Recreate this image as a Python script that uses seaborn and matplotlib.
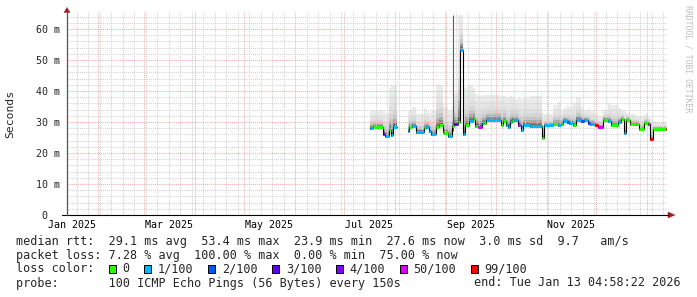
import numpy as np
import pandas as pd
import matplotlib
matplotlib.use("Agg")
import matplotlib.pyplot as plt
import matplotlib.dates as mdates
import matplotlib.ticker as mticker
from matplotlib.patches import Polygon, Rectangle
import seaborn as sns

# ---------------- data ----------------
# step start, in days since 2025-07-01 ; NaN median marks a gap / the end
day = [15.7, 17.5, 23.2, 24.8, 27.3, 28.5, 29.7, 31.7,
       38.4, 39.4, 40.9, 43.5, 48.2, 49.6, 51.6, 52.6, 55.7, 57.7, 59.7, 60.7,
       63.2, 65.2, 66.8, 68.8, 70.5, 72.3, 73.4, 75.9, 77.9, 79.4, 81.5, 83.5,
       85.0, 86.1, 95.2, 96.4, 98.2, 99.5, 100.7, 101.8, 103.1, 105.5, 106.5,
       107.4, 108.6, 113.0, 119.5, 120.1, 121.2, 127.0, 129.9, 131.5, 132.9,
       135.5, 136.6, 139.0, 140.8, 143.9, 145.5, 148.1, 149.5, 152.3, 154.2,
       157.2, 160.3, 162.1, 166.4, 168.2, 170.0, 171.0, 173.5, 177.3, 179.1,
       182.2, 184.6, 186.0, 187.6, 195.6, 196.2]
median_ms = [28.0, 28.3, 26.2, 25.4, 27.3, 25.8, 28.5, np.nan,
             27.0, 28.5, 28.6, 26.7, 28.0, 28.3, 27.2, 26.0, 28.3, 29.0, 26.8, 26.3,
             25.5, 28.6, 29.5, 30.0, 53.4, 26.0, 29.0, 30.4, 31.0, 28.6, 28.3, 29.6,
             29.6, 30.6, 29.2, 30.3, 29.0, 28.4, 30.0, 30.4, 30.5, 29.1, 29.0,
             27.4, 29.0, 28.8, 28.6, 25.0, 28.9, 29.3, 29.0, 29.5, 30.4,
             30.0, 29.6, 29.0, 30.6, 30.3, 30.5, 29.8, 29.4, 28.9, 28.4,
             30.8, 30.2, 29.0, 30.1, 30.9, 26.4, 30.8, 29.4, 29.4, 27.6,
             29.8, 29.4, 24.4, 27.9, 27.8, np.nan]
loss_level = [1, 0, 4, 1, 0, 1, 1, -1,
              1, 0, 1, 1, 0, 1, 1, 1, 0, 0, 0, 0,
              1, 0, 3, 0, 1, 1, 0, 1, 0, 0, 5, 1,
              0, 1, 0, 0, 1, 1, 1, 0, 1, 5, 1,
              1, 1, 1, 0, 0, 1, 0, 1, 0, 1,
              2, 1, 0, 1, 2, 1, 2, 1, 6, 5,
              0, 1, 0, 1, 0, 1, 0, 0, 0, 0,
              0, 5, 6, 0, 6, -1]
smoke_top_ms = [33.5, 34.0, 33.5, 33.0, 41.0, 41.9, 41.5, np.nan,
                33.5, 33.9, 34.8, 32.5, 34.5, 33.5, 33.0, 33.5, 42.4, 42.0, 36.0, 35.0,
                34.0, 35.0, 39.5, 64.5, 64.5, 41.0, 41.4, 42.0, 41.0, 39.2, 38.5, 38.7,
                38.7, 38.7, 38.0, 38.5, 38.0, 37.8, 38.5, 38.0, 37.5, 37.8, 37.5,
                37.5, 37.8, 38.3, 39.5, 33.0, 32.5, 35.5, 36.5, 33.5, 34.5,
                35.5, 35.0, 36.0, 38.0, 35.0, 34.0, 34.5, 33.5, 32.5, 32.0,
                34.0, 36.0, 35.5, 34.5, 34.0, 33.5, 33.0, 32.5, 32.0, 32.0,
                32.5, 32.0, 31.0, 30.0, 29.5, np.nan]
spike_day = [65.8]
spike_low_ms = [27.0]
spike_top_ms = [64.6]

loss_labels = ["0", "1/100", "2/100", "3/100", "4/100", "50/100", "99/100"]
loss_colors = ["#26ff00", "#00b8ff", "#0059ff", "#5e00ff", "#7e00ff", "#dd00ff", "#ff0000"]
month_labels = ["Jan 2025", "Mar 2025", "May 2025", "Jul 2025", "Sep 2025", "Nov 2025"]
label_months = ["2025-01-01", "2025-03-01", "2025-05-01", "2025-07-01", "2025-09-01", "2025-11-01"]
y_major = [0, 10, 20, 30, 40, 50, 60]

line_rtt = "median rtt:  29.1 ms avg  53.4 ms max  23.9 ms min  27.6 ms now  3.0 ms sd  9.7   am/s"
line_loss = "packet loss: 7.28 % avg  100.00 % max  0.00 % min  75.00 % now"
line_probe = "probe:       100 ICMP Echo Pings (56 Bytes) every 150s"
line_end = "end: Tue Jan 13 04:58:22 2026"
end_time = pd.Timestamp("2026-01-13 04:58:22")
start_time = end_time - pd.Timedelta(days=365)

# ---------------- figure ----------------
sns.set_style("white")
plt.rcParams["font.family"] = ["DejaVu Sans Mono", "DejaVu Sans"]

W, H = 697, 297
fig = plt.figure(figsize=(W / 100, H / 100), dpi=100)
fig.patch.set_facecolor("white")


def fx(x):
    return x / W


def fy(y):
    return 1 - y / H


ax = fig.add_axes([fx(67), fy(215), 600 / W, 203 / H])
ax.set_facecolor("white")

base = pd.Timestamp("2025-07-01")
tnum = mdates.date2num(base + pd.to_timedelta(day, unit="D"))

# build step records
rows = []
seg = 0
for i in range(len(day) - 1):
    if np.isnan(median_ms[i]):
        seg += 1
        continue
    rows.append(dict(start=tnum[i], end=tnum[i + 1], med=median_ms[i],
                     loss=loss_level[i], top=smoke_top_ms[i], seg=seg))
steps = pd.DataFrame(rows)

# smoke (layered gray bands)
fracs = [1.0, 0.78, 0.58, 0.42, 0.30, 0.20, 0.12, 0.06]
grays = ["#ebebeb", "#e6e6e6", "#e0e0e0", "#d6d6d6", "#c6c6c6", "#ababab", "#8a8a8a", "#666666"]
for s, g in steps.groupby("seg"):
    xs = np.column_stack([g["start"].values, g["end"].values]).ravel()
    med = np.repeat(g["med"].values, 2)
    top = np.repeat(g["top"].values, 2)
    for f, c in zip(fracs, grays):
        ax.fill_between(xs, med - 0.6, med + f * (top - med), color=c, lw=0, zorder=1)

# thin spike
ax.vlines(mdates.date2num(base + pd.to_timedelta(spike_day, unit="D")),
          spike_low_ms, spike_top_ms, color="#5a5a5a", lw=0.8, zorder=3)

# black median line via seaborn
lx, ly, ls = [], [], []
for _, r in steps.iterrows():
    lx += [r["start"], r["end"]]
    ly += [r["med"], r["med"]]
    ls += [r["seg"], r["seg"]]
line_df = pd.DataFrame({"x": lx, "y": ly, "seg": ls})
sns.lineplot(data=line_df, x="x", y="y", units="seg", estimator=None, sort=False,
             color="black", lw=0.8, ax=ax, zorder=3, legend=False)

# loss-coloured median segments
ax.hlines(steps["med"], steps["start"], steps["end"],
          colors=[loss_colors[int(k)] for k in steps["loss"]], lw=2.2, zorder=4)

# axes ranges
ax.set_xlim(mdates.date2num(start_time), mdates.date2num(end_time))
ax.set_ylim(0, 65.5)
ax.set_xlabel("")
ax.set_ylabel("")

# grid
month_starts = mdates.date2num(pd.date_range("2025-02-01", "2026-01-01", freq="MS"))
weeks = mdates.date2num(pd.date_range("2025-01-19", "2026-01-12", freq="7D"))
ax.set_xticks(month_starts)
ax.set_xticks(weeks, minor=True)
ax.set_yticks(y_major)
ax.set_yticks(np.arange(0, 66, 2), minor=True)
ax.set_axisbelow(False)
ax.grid(True, which="major", color="#eeaeae", ls=(0, (1, 1)), lw=0.75)
ax.grid(True, which="minor", color="#d2d2d2", ls=(0, (1, 1)), lw=0.75)
for sp in ax.spines.values():
    sp.set_visible(False)
ax.tick_params(axis="x", which="both", labelbottom=False, direction="out",
               length=2.2, width=0.7, color="#666666")
ax.tick_params(axis="x", which="minor", length=1.2)
ax.tick_params(axis="y", which="major", direction="out", length=2.2, width=0.7,
               color="#666666", pad=2.8, labelsize=7.2)
ax.tick_params(axis="y", which="minor", direction="out", length=1.2, width=0.7, color="#888888")
ax.yaxis.set_major_formatter(mticker.FuncFormatter(lambda v, p: "0  " if v == 0 else f"{v:.0f} m"))

# month labels, centred mid-month
for lab, m in zip(month_labels, label_months):
    xc = mdates.date2num(pd.Timestamp(m) + pd.Timedelta(days=15))
    ax.text(xc, -0.027, lab, transform=ax.get_xaxis_transform(), ha="center", va="top",
            fontsize=7.2, color="black", clip_on=False)

# axis lines and arrows
fig.add_artist(plt.Line2D([fx(62), fx(668)], [fy(215), fy(215)], transform=fig.transFigure,
                          color="black", lw=0.8))
fig.add_artist(plt.Line2D([fx(67), fx(67)], [fy(215), fy(11)], transform=fig.transFigure,
                          color="#555555", lw=0.9))
arrow_c = "#9e1b1b"
fig.add_artist(Polygon([(fx(64), fy(12.5)), (fx(70), fy(12.5)), (fx(67), fy(7.5))],
                       closed=True, transform=fig.transFigure, facecolor=arrow_c, edgecolor=arrow_c, lw=0.3))
fig.add_artist(Polygon([(fx(668), fy(212)), (fx(668), fy(218)), (fx(675), fy(215))],
                       closed=True, transform=fig.transFigure, facecolor=arrow_c, edgecolor=arrow_c, lw=0.3))

# y label and watermark
fig.text(fx(10), fy(113.5), "Seconds", rotation=90, ha="center", va="center", fontsize=8.2)
fig.text(fx(688), fy(59), "RRDTOOL / TOBI OETIKER", rotation=270, ha="center", va="center",
         fontsize=5.9, color="#bdbdbd")

# legend rows
cw = 7.1
x0 = 16
fs = 8.5
fig.text(fx(x0), fy(241), line_rtt, ha="left", va="center", fontsize=fs)
fig.text(fx(x0), fy(255), line_loss, ha="left", va="center", fontsize=fs)
fig.text(fx(x0), fy(269), "loss color:", ha="left", va="center", fontsize=fs)
col = 13
for lab, c in zip(loss_labels, loss_colors):
    bx = x0 + col * cw + 0.5
    fig.add_artist(Rectangle((fx(bx), fy(273)), 7 / W, 8 / H, transform=fig.transFigure,
                             facecolor=c, edgecolor="black", lw=0.7))
    fig.text(fx(x0 + (col + 2) * cw), fy(269), lab, ha="left", va="center", fontsize=fs)
    col += 2 + len(lab) + 2
fig.text(fx(x0), fy(283), line_probe, ha="left", va="center", fontsize=fs)
fig.text(fx(681), fy(283), line_end, ha="right", va="center", fontsize=fs)

fig.savefig("out.png", dpi=100, facecolor="white")
